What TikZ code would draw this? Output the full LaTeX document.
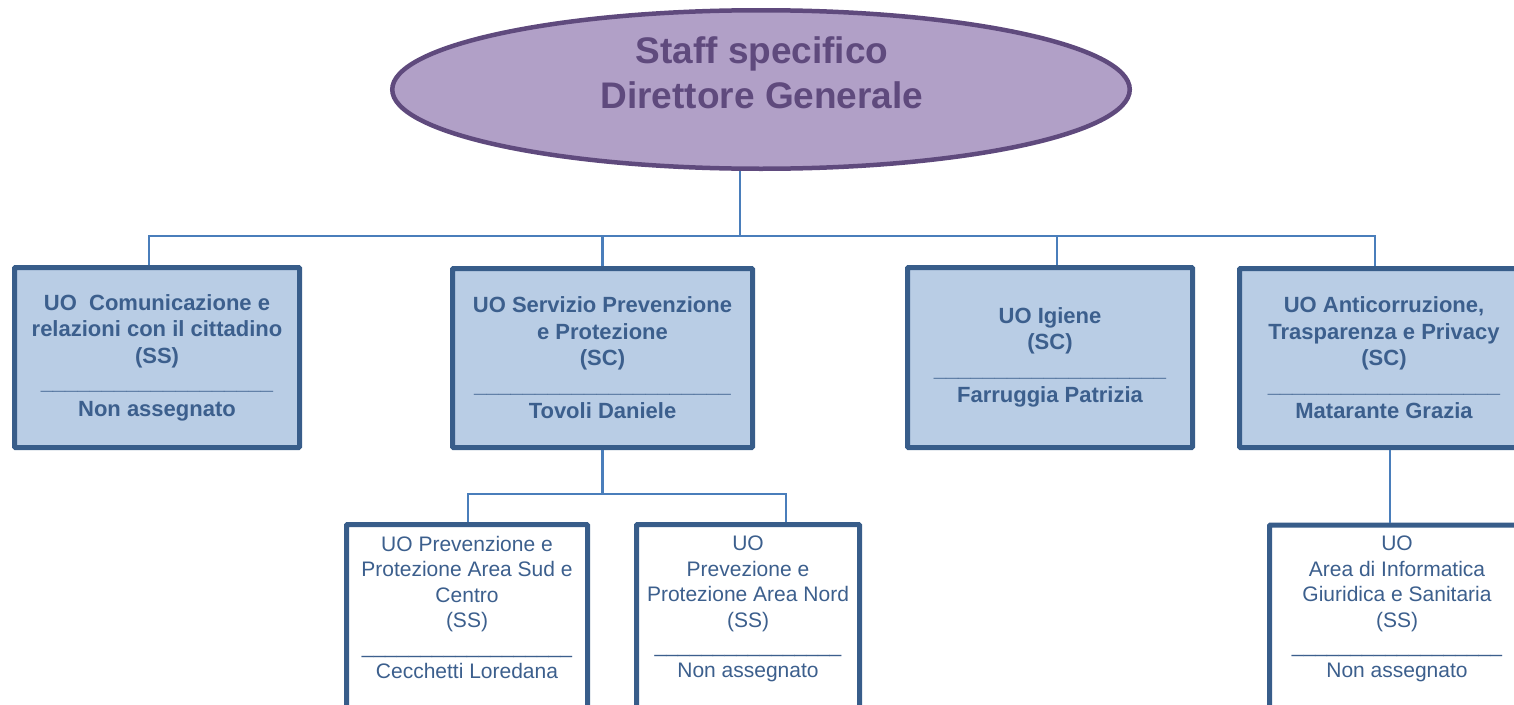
\documentclass[tikz,border=0pt]{standalone}
\usepackage{fontspec}
\setmainfont{Liberation Sans}
\usetikzlibrary{shapes.geometric}
\definecolor{boxfill}{HTML}{B9CDE5}
\definecolor{boxline}{HTML}{385D8A}
\definecolor{linkclr}{HTML}{4A7EBB}
\definecolor{boxtext}{HTML}{3C5F8D}
\definecolor{ellfill}{HTML}{B1A0C7}
\definecolor{ellline}{HTML}{5F4A7D}
\ExplSyntaxOn
\cs_new:Npn \sepu #1 { \prg_replicate:nn {#1} { \textunderscore } }
\ExplSyntaxOff
\begin{document}
\begin{tikzpicture}[x=1pt,y=-1pt,
  ell/.style={ellipse,draw=ellline,fill=ellfill,line width=4.5pt,minimum width=737.5pt,minimum height=158.5pt,inner sep=0pt},
  elltext/.style={text=ellline,align=center,inner sep=0pt,font=\fontsize{37}{45}\selectfont\bfseries},
  topbox/.style={draw=boxline,fill=boxfill,line width=5pt,rounded corners=1pt,align=center,text=boxtext,inner sep=0pt,font=\fontsize{22}{26.5}\selectfont\bfseries},
  lowbox/.style={draw=boxline,fill=white,line width=5pt,rounded corners=1pt,inner sep=0pt,minimum height=240pt},
  lowtext/.style={align=center,text=boxtext,inner sep=0pt,anchor=north,font=\fontsize{21}{25.4}\selectfont},
  link/.style={draw=linkclr,line width=2.5pt}]
\useasboundingbox (0,0) rectangle (1514,704);
\clip (0,0) rectangle (1514,704);

\node[ell] (dg) at (761,89.5) {};
\node[elltext] (dgt) at (762,73) {Staff specifico\\Direttore Generale};

\node[topbox,minimum width=285pt,minimum height=180pt] (b1) at (157,357.5)
  {UO~~Comunicazione e\\relazioni con il cittadino\\(SS)\\\sepu{19}\\Non assegnato};
\node[topbox,minimum width=300pt,minimum height=179pt] (b2) at (602.5,358)
  {UO Servizio Prevenzione\\e Protezione\\(SC)\\\sepu{21}\\Tovoli Daniele};
\node[topbox,minimum width=285pt,minimum height=180pt] (b3) at (1050,357.5)
  {UO Igiene\\(SC)\\\sepu{19}\\Farruggia Patrizia};
\node[topbox,minimum width=289pt,minimum height=179pt] (b4) at (1384,358)
  {UO Anticorruzione,\\Trasparenza e Privacy\\(SC)\\\sepu{19}\\Matarante Grazia};

\node[lowbox,minimum width=241pt] (b5) at (467,644.5) {};
\node[lowbox,minimum width=223pt] (b6) at (748,644.5) {};
\node[lowbox,minimum width=255pt] (b7) at (1397,645) {};
\node[lowtext] (t5) at (467,536)
  {UO Prevenzione e\\Protezione Area Sud e\\Centro\\(SS)\\\sepu{18}\\Cecchetti Loredana};
\node[lowtext] (t6) at (748,536)
  {UO\\Prevezione e\\Protezione Area Nord\\(SS)\\\sepu{16}\\Non assegnato};
\node[lowtext] (t7) at (1397,536)
  {UO\\Area di Informatica\\Giuridica e Sanitaria\\(SS)\\\sepu{18}\\Non assegnato};

\coordinate (j0) at (740,236);
\coordinate (j1) at (603,494);
\draw[link] (j0 |- dg.south) -- (j0);
\draw[link] ([xshift=-8pt]b1.north) |- (j0) -| ([xshift=-9pt]b4.north);
\draw[link] (b2.north) -- (b2.north |- j0);
\draw[link] ([xshift=7pt]b3.north) -- ([xshift=7pt]b3.north |- j0);
\draw[link] (b2.south) -- (b2.south |- j1);
\draw[link] ([xshift=1pt]b5.north) |- (j1) -| ([xshift=38pt]b6.north);
\draw[link] ([xshift=6pt]b4.south) -- ([xshift=-7pt]b7.north);
\end{tikzpicture}
\end{document}
